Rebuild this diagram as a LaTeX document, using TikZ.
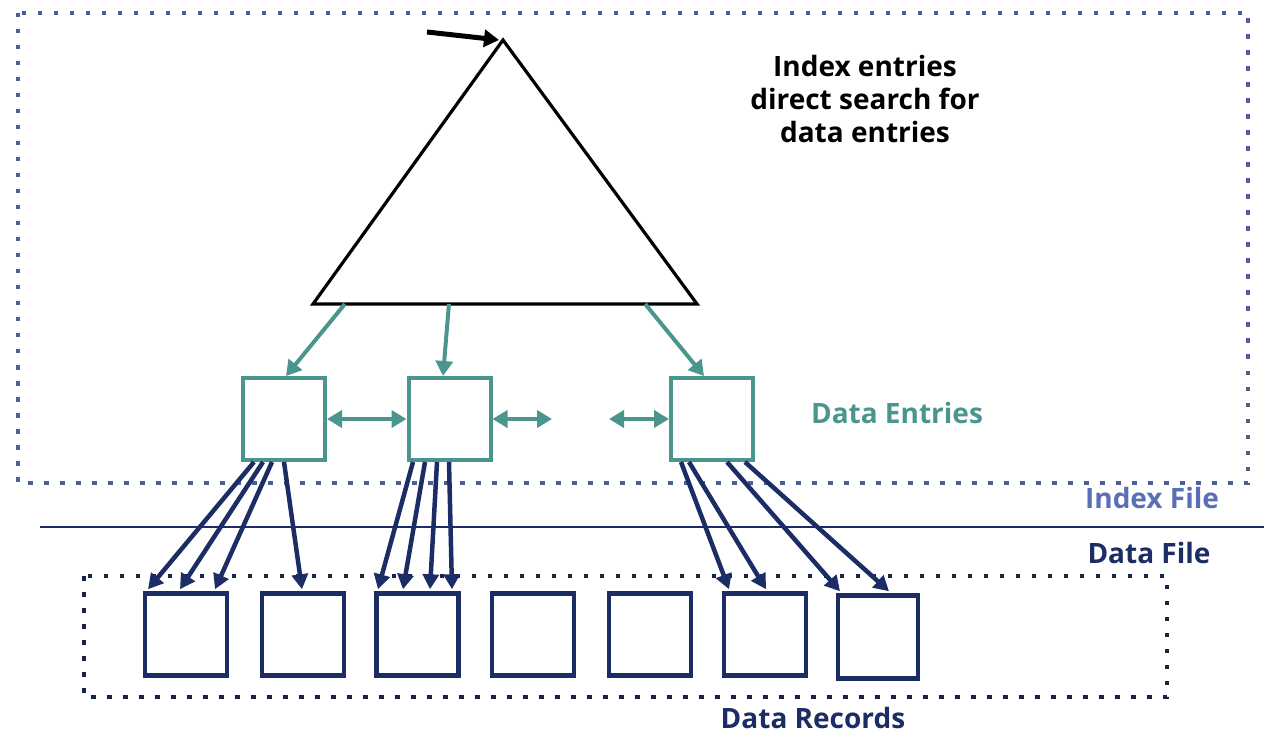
\documentclass[tikz,border=0pt]{standalone}
\usepackage{fontspec}
\setmainfont{Open Sans}
\usetikzlibrary{arrows.meta,calc}
\definecolor{teal1}{HTML}{4A968F}
\definecolor{navy1}{HTML}{1C2C64}
\definecolor{idxblue}{HTML}{5B6FB5}
\definecolor{dotblue}{HTML}{4A5F9A}
\tikzset{
  entrybox/.style={draw=teal1,line width=4pt,fill=white,minimum width=82pt,minimum height=82pt,inner sep=0pt},
  recbox/.style={draw=navy1,line width=4.5pt,minimum width=82pt,minimum height=82pt,inner sep=0pt},
  tealarrow/.style={draw=teal1,line width=4pt,-{Triangle[length=15pt,width=17pt]}},
  tealdouble/.style={draw=teal1,line width=4pt,{Triangle[length=15pt,width=17pt]}-{Triangle[length=15pt,width=17pt]}},
  navyarrow/.style={draw=navy1,line width=4.5pt,-{Triangle[length=15pt,width=16pt]}},
  dotbox/.style={line width=4.5pt,dash pattern=on 4.5pt off 11.5pt},
  lbl/.style={font=\bfseries\fontsize{28}{33}\selectfont,inner sep=0pt}
}
\begin{document}
\begin{tikzpicture}[x=1pt,y=-1pt]
\useasboundingbox (0,0) rectangle (1264,735);
% dotted boxes
\draw[dotbox,draw=dotblue] (18,13) rectangle (1248,483);
\draw[dotbox,draw=navy1!80!black] (84,576) rectangle (1167,697);
% separator line
\coordinate (sepL) at (40,527);
\coordinate (sepR) at (1264,527);
\draw[navy1,line width=1.5pt] (sepL) -- (sepR);
% triangle
\coordinate (tapex) at (503,40);
\coordinate (tl) at (313,304);
\coordinate (tr) at (697,304);
\draw[black,line width=3.2pt,line join=miter] (tapex) -- (tl) -- (tr) -- cycle;
\coordinate (rootin) at (427,32);
\draw[black,line width=5pt,-{Triangle[length=15pt,width=17pt]}] (rootin) -- (499,40);
% text
\node[lbl,align=center] (idxtext) at (865,99) {Index entries\\direct search for\\data entries};
% data entries
\node[entrybox] (e1) at (284,419) {};
\node[entrybox] (e2) at (449.5,419) {};
\node[entrybox] (e3) at (712,419) {};
\node[lbl,text=teal1] (delbl) at (897,413) {Data Entries};
\coordinate (gapL) at (552,419);
\coordinate (gapR) at (609,419);
\draw[tealdouble] (e1.east) -- (e2.west);
\draw[tealdouble] (e2.east) -- (gapL);
\draw[tealdouble] (gapR) -- (e3.west);
\draw[tealarrow] ($(tl)!0.083!(tr)$) -- ($(e1.north)+(2,0)$);
\draw[tealarrow] ($(tl)!0.354!(tr)$) -- ($(e2.north)+(-6.5,0)$);
\draw[tealarrow] ($(tl)!0.865!(tr)$) -- ($(e3.north)+(-8,0)$);
% labels
\node[lbl,text=idxblue] (ifile) at (1152,498) {Index File};
\node[lbl,text=navy1] (dfile) at (1149,553) {Data File};
\node[lbl,text=navy1] (drec) at (813,718) {Data Records};
% records
\node[recbox] (r1) at (186,634.5) {};
\node[recbox] (r2) at (303,634.5) {};
\node[recbox] (r3) at (417.5,634.5) {};
\node[recbox] (r4) at (533,634.5) {};
\node[recbox] (r5) at (650,634.5) {};
\node[recbox] (r6) at (765,634.5) {};
\node[recbox,minimum width=80pt,minimum height=83pt] (r7) at (878,637) {};
% navy arrows
\draw[navyarrow] ($(e1.south)+(-30,0)$) -- ($(r1.north)+(-38,-2)$);
\draw[navyarrow] ($(e1.south)+(-21,0)$) -- ($(r1.north)+(-6,-2)$);
\draw[navyarrow] ($(e1.south)+(-12,0)$) -- ($(r1.north)+(29,-2)$);
\draw[navyarrow] ($(e1.south)+(0,0)$) -- ($(r2.north)+(-1,-2)$);
\draw[navyarrow] ($(e2.south)+(-36.5,0)$) -- ($(r3.north)+(-39.5,-2)$);
\draw[navyarrow] ($(e2.south)+(-24.5,0)$) -- ($(r3.north)+(-14.5,-2)$);
\draw[navyarrow] ($(e2.south)+(-12.5,0)$) -- ($(r3.north)+(12.5,-2)$);
\draw[navyarrow] ($(e2.south)+(-0.5,0)$) -- ($(r3.north)+(34.5,-2)$);
\draw[navyarrow] ($(e3.south)+(-31,0)$) -- ($(r6.north)+(-36,-2)$);
\draw[navyarrow] ($(e3.south)+(-23,0)$) -- ($(r6.north)+(1,-2)$);
\draw[navyarrow] ($(e3.south)+(15,0)$) -- ($(r7.north)+(-38,-2)$);
\draw[navyarrow] ($(e3.south)+(33,0)$) -- ($(r7.north)+(11,-2)$);
\end{tikzpicture}
\end{document}
